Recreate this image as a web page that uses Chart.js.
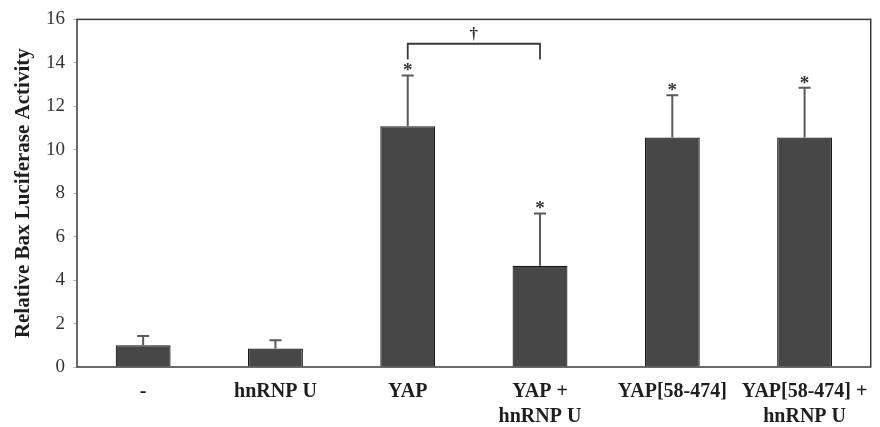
<!DOCTYPE html>
<html lang="en">
<head>
    <meta charset="UTF-8">
    <title>Relative Bax Luciferase Activity</title>
    <script src="https://cdn.jsdelivr.net/npm/chart.js"></script>
    <style>
        html, body { margin: 0; padding: 0; background: #fff; }
        .chart { width: 880px; height: 427px; }
    </style>
</head>
<body>
    <div class="chart">
        <canvas id="luciferaseChart"></canvas>
    </div>

<script>
    // dados
    var categorias = [['-'], ['hnRNP U'], ['YAP'], ['YAP +', 'hnRNP U'], ['YAP[58-474]'], ['YAP[58-474] +', 'hnRNP U']]
    var atividade = [1.0, 0.85, 11.08, 4.66, 10.56, 10.56]
    var erroSuperior = [0.43, 0.38, 2.34, 2.41, 1.95, 2.29]
    var marcas = ['', '', '*', '*', '*', '*']
    var ticksY = [0, 2, 4, 6, 8, 10, 12, 14, 16]
    // colchete de comparacao entre YAP e YAP + hnRNP U
    var colchete = { de: 2, ate: 3, topo: 14.88, base: 14.15, texto: '\u2020' }

    var fonte = "'Liberation Serif', 'Times New Roman', serif"

    // barras de erro, asteriscos, colchete e moldura
    const extras = {
        id: 'extras',
        afterDatasetsDraw(chart) {
            const ctx = chart.ctx
            const x = chart.scales.x
            const y = chart.scales.y
            const area = chart.chartArea
            ctx.save()

            // moldura do grafico
            ctx.strokeStyle = '#3a3a3a'
            ctx.lineWidth = 1.5
            ctx.strokeRect(area.left, area.top, area.right - area.left, area.bottom - area.top)

            // barras de erro (so para cima)
            ctx.strokeStyle = '#5a5a5a'
            ctx.lineWidth = 2
            for (var i = 0; i < atividade.length; i++) {
                var cx = x.getPixelForValue(i)
                var yTop = y.getPixelForValue(atividade[i])
                var yErr = y.getPixelForValue(atividade[i] + erroSuperior[i])
                ctx.beginPath()
                ctx.moveTo(cx, yTop)
                ctx.lineTo(cx, yErr)
                ctx.moveTo(cx - 6, yErr)
                ctx.lineTo(cx + 6, yErr)
                ctx.stroke()

                if (marcas[i]) {
                    ctx.fillStyle = '#333'
                    ctx.font = 'bold 19px ' + fonte
                    ctx.textAlign = 'center'
                    ctx.textBaseline = 'middle'
                    ctx.fillText(marcas[i], cx, yErr - 4)
                }
            }

            // colchete
            var x1 = x.getPixelForValue(colchete.de)
            var x2 = x.getPixelForValue(colchete.ate)
            var yt = y.getPixelForValue(colchete.topo)
            var yb = y.getPixelForValue(colchete.base)
            ctx.strokeStyle = '#3a3a3a'
            ctx.lineWidth = 1.8
            ctx.beginPath()
            ctx.moveTo(x1, yb)
            ctx.lineTo(x1, yt)
            ctx.lineTo(x2, yt)
            ctx.lineTo(x2, yb)
            ctx.stroke()
            ctx.fillStyle = '#333'
            ctx.font = 'bold 17px ' + fonte
            ctx.textAlign = 'center'
            ctx.textBaseline = 'bottom'
            ctx.fillText(colchete.texto, (x1 + x2) / 2, yt - 1)

            ctx.restore()
        }
    }

    const ctx = document.getElementById('luciferaseChart')
    new Chart(ctx, {
        type: 'bar',
        data: {
            labels: categorias,
            datasets: [{
                label: 'Relative Bax Luciferase Activity',
                data: atividade,
                backgroundColor: '#474747',
                borderColor: '#1a1a1a',
                borderWidth: 1.2,
                borderSkipped: 'bottom',
                categoryPercentage: 1.0,
                barPercentage: 0.415
            }]
        },
        options: {
            responsive: true,
            maintainAspectRatio: false,
            animation: false,
            layout: { padding: { left: 0, top: 17, right: 7, bottom: 0 } },
            plugins: {
                legend: { display: false },
                tooltip: { enabled: false }
            },
            scales: {
                x: {
                    grid: { display: false, drawTicks: false },
                    border: { display: false },
                    ticks: {
                        color: '#1e1e1e',
                        font: { family: fonte, size: 20, weight: 'bold', lineHeight: 1.25 },
                        padding: 12,
                        maxRotation: 0,
                        autoSkip: false
                    },
                    afterFit: function (s) { s.height = 60 }
                },
                y: {
                    min: 0,
                    max: 16,
                    afterBuildTicks: function (s) { s.ticks = ticksY.map(function (v) { return { value: v } }) },
                    grid: { drawOnChartArea: false, tickLength: 4, color: '#bbb' },
                    border: { display: false },
                    ticks: {
                        color: '#333',
                        font: { family: fonte, size: 19 },
                        padding: 8
                    },
                    title: {
                        display: true,
                        text: 'Relative Bax Luciferase Activity',
                        color: '#1e1e1e',
                        font: { family: fonte, size: 21, weight: 'bold' },
                        padding: { top: 11, bottom: 0 }
                    },
                    afterFit: function (s) { s.width = 77 }
                }
            }
        },
        plugins: [extras]
    })
</script>
</body>
</html>
